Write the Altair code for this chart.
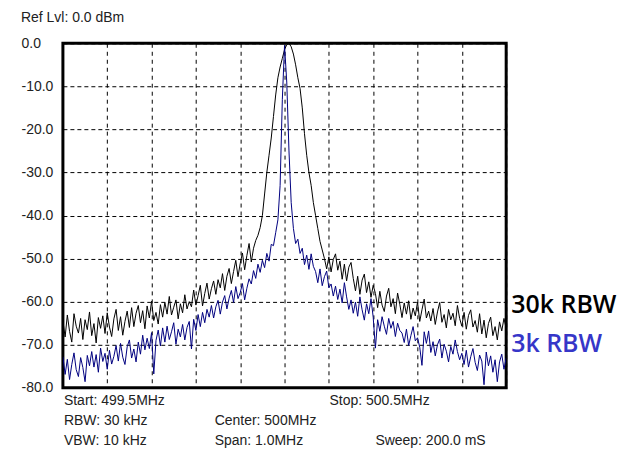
import altair as alt
import pandas as pd

# Sweep settings
start_mhz = 499.5
stop_mhz = 500.5

# 30 kHz RBW trace (dBm), 201 sweep points
rbw30k = [
    -64.5, -68.2, -63.1, -66.9, -69.4, -62.8, -65.7, -67.3, -63.9, -68.8, -64.2, -66.5, -62.4, -67.9, -65.1, -69.6, -63.7, -66.2,
    -63.3, -67.4, -62.6, -65.9, -68.1, -64.0, -61.8, -66.7, -63.5, -67.8, -64.6, -62.2, -66.0,
    -61.4, -65.8, -62.7, -60.9, -64.9, -62.1, -66.3, -61.0, -63.8, -59.9, -64.4, -62.5, -65.2, -60.7,
    -63.6, -60.2, -62.9, -58.8, -63.1, -61.3, -59.6, -64.0, -60.5, -62.6, -58.4, -61.7, -60.0,
    -61.2, -57.3, -60.8, -58.6, -56.2, -61.0, -58.1, -55.7, -59.4, -57.0, -55.2,
    -58.3, -54.9, -56.8, -53.5, -57.4, -54.1, -52.3, -55.8, -53.0,
    -50.4, -54.2, -51.1, -48.7, -52.6, -49.3, -46.5, -50.8, -47.6, -45.8,
    -44.6, -42.8, -40.0, -35.0, -30.0, -26.0, -22.0, -17.0, -12.0, -8.0, -5.5, -3.5, -1.5, -0.3, 0.0,
    -0.8, -2.5, -5.0, -8.0, -10.5, -15.0, -21.0, -26.0, -30.0, -33.0, -37.0, -40.0, -43.0, -46.0, -48.0, -50.0,
    -52.4, -49.6, -53.1, -50.2, -48.9, -52.7, -50.6,
    -54.8, -51.3, -55.2, -52.0, -50.9, -54.6,
    -57.5, -54.1, -58.3, -55.0, -53.6, -57.9, -55.4, -59.0, -56.2,
    -58.1, -61.4, -57.6, -60.8, -62.3, -58.7, -56.9, -61.2, -59.3, -62.8, -58.0, -60.6,
    -63.7, -60.3, -62.9, -59.8, -64.1, -61.5, -63.3, -60.1, -64.6, -61.9, -59.4, -63.8, -62.2,
    -64.5, -61.6, -65.3, -62.4, -60.2, -64.8, -63.0, -66.1, -61.8, -64.2, -62.7, -65.6, -60.9, -63.9,
    -65.7, -62.5, -66.4, -63.2, -61.9, -65.9, -64.4, -67.1, -62.8,
    -67.5, -64.3, -68.4, -65.1, -63.6, -67.9, -65.8, -68.9, -64.7, -66.8, -63.9, -66.2,
]

# 3 kHz RBW trace (dBm), 201 sweep points
rbw3k = [
    -72.8, -76.9, -73.4, -78.1, -74.6, -71.9, -75.8, -77.4, -73.0, -75.3, -78.6, -72.5, -74.9,
    -71.6, -75.2, -72.3, -76.4, -70.8, -73.9, -72.0, -75.7, -71.3, -74.5, -72.7,
    -70.2, -73.8, -69.7, -72.9, -74.6, -70.5, -68.9, -73.1, -71.0, -74.0, -69.4, -72.2,
    -67.8, -71.2, -68.5, -70.9, -67.2, -76.8, -69.0, -66.6, -70.3,
    -66.1, -69.4, -65.7, -68.8, -67.0, -64.9, -69.9, -66.4, -68.2, -65.3, -68.9, -66.0, -64.6,
    -71.0, -64.1, -66.7, -63.0, -65.8, -62.5, -64.9, -61.8, -63.6,
    -60.9, -63.8, -61.2, -59.7, -62.9, -60.1, -58.6, -61.7, -59.2,
    -57.4, -60.2, -56.5, -59.3, -57.9, -55.8, -59.6, -56.9, -54.7,
    -55.9, -52.8, -54.6, -51.3, -53.2, -50.4, -52.1, -48.8, -50.6, -46.7,
    -47.0, -44.0, -41.0, -33.0, -13.0, -0.5, -9.0, -25.0, -37.0, -43.0, -46.5, -45.5, -48.8,
    -47.6, -51.4, -49.2, -52.5, -48.9, -51.8,
    -53.0, -55.6, -52.4, -56.3, -54.2, -52.9, -56.8,
    -55.9, -58.7, -56.4, -59.5, -57.1, -60.3, -55.6, -58.9, -61.8,
    -59.6, -62.7, -60.1, -63.4, -58.9, -61.9, -64.3, -60.5, -62.8, -59.3, -63.6,
    -70.8, -64.2, -66.9, -63.5, -65.7, -67.6, -63.9, -66.2, -64.6, -68.1, -65.0, -66.7,
    -67.3, -69.5, -66.4, -70.2, -67.9, -65.8, -69.1, -68.4, -70.6, -74.8, -67.0, -69.7, -66.8,
    -71.8, -69.3, -72.6, -70.0, -68.7, -73.1, -69.9, -71.5, -74.0, -70.4, -72.2, -68.9, -71.6, -73.5,
    -72.0, -74.6, -71.3, -75.2, -72.8, -70.9, -74.1, -76.0, -72.4, -73.8, -79.3, -71.7, -74.9,
    -72.6, -76.4, -73.5, -78.6, -74.0, -72.2, -75.7, -73.1,
]

y_ticks = [0, -10, -20, -30, -40, -50, -60, -70, -80]
x_grid = [499.5, 499.6, 499.7, 499.8, 499.9, 500.0, 500.1, 500.2, 500.3, 500.4, 500.5]

series_names = ["30k RBW", "3k RBW"]
header_text = "Ref Lvl: 0.0 dBm"
footer_texts = ["Start: 499.5MHz", "Stop: 500.5MHz", "RBW: 30 kHz", "Center: 500MHz",
                "VBW: 10 kHz", "Span: 1.0MHz", "Sweep: 200.0 mS"]

n = len(rbw30k)
freq = [start_mhz + (stop_mhz - start_mhz) * i / (n - 1) for i in range(n)]
df30 = pd.DataFrame({"f": freq, "dB": rbw30k})
df3 = pd.DataFrame({"f": freq[:len(rbw3k)], "dB": rbw3k})

x_enc = alt.X(
    "f:Q",
    scale=alt.Scale(domain=[start_mhz, stop_mhz], nice=False, zero=False),
    axis=alt.Axis(values=x_grid, labels=False, ticks=False, domain=False, grid=True,
                  gridColor="black", gridDash=[4, 4], gridWidth=1, gridOpacity=1, title=None),
)
y_enc = alt.Y(
    "dB:Q",
    scale=alt.Scale(domain=[-80, 0], nice=False, zero=False),
    axis=alt.Axis(values=y_ticks, ticks=False, tickSize=0, domain=False, grid=True,
                  gridColor="black", gridDash=[4, 3], gridWidth=1, gridOpacity=1, title=None,
                  labelExpr="datum.value == 0 ? '0.0' : '-' + format(-datum.value, '.1f')",
                  labelAlign="left", labelPadding=42, labelFont="Liberation Sans",
                  labelFontSize=14, labelColor="#222222"),
)

line30 = alt.Chart(df30).mark_line(color="#000000", strokeWidth=1, clip=True).encode(x=x_enc, y=y_enc)
line3 = alt.Chart(df3).mark_line(color="#000080", strokeWidth=1, clip=True).encode(x="f:Q", y="dB:Q")


def label(text, px, py, size=14, color="#222222", font="Liberation Sans", weight="normal"):
    return alt.Chart(alt.Data(values=[{"t": text}])).mark_text(
        align="left", baseline="middle", font=font, fontSize=size, color=color, fontWeight=weight
    ).encode(text="t:N", x=alt.value(px), y=alt.value(py))


texts = [
    label(header_text, -42, -25),
    label(footer_texts[0], 1, 358),
    label(footer_texts[1], 267, 358),
    label(footer_texts[2], 1, 378),
    label(footer_texts[3], 152, 378),
    label(footer_texts[4], 1, 398),
    label(footer_texts[5], 152, 398),
    label(footer_texts[6], 313, 398),
    label(series_names[0], 449, 262, size=25, color="#000000", font="Open Sans", weight=600),
    label(series_names[1], 449, 301, size=25, color="#3636c8", font="Open Sans", weight=600),
]

chart = alt.layer(line30, line3, *texts).properties(
    width=444,
    height=345,
    background="white",
    autosize=alt.AutoSizeParams(type="none"),
    padding={"left": 55, "top": 35, "right": 112, "bottom": 65},
).configure_view(stroke="black", strokeWidth=3, fill="white")

chart.save("out.html", embed_options={"renderer": "svg", "actions": False})
